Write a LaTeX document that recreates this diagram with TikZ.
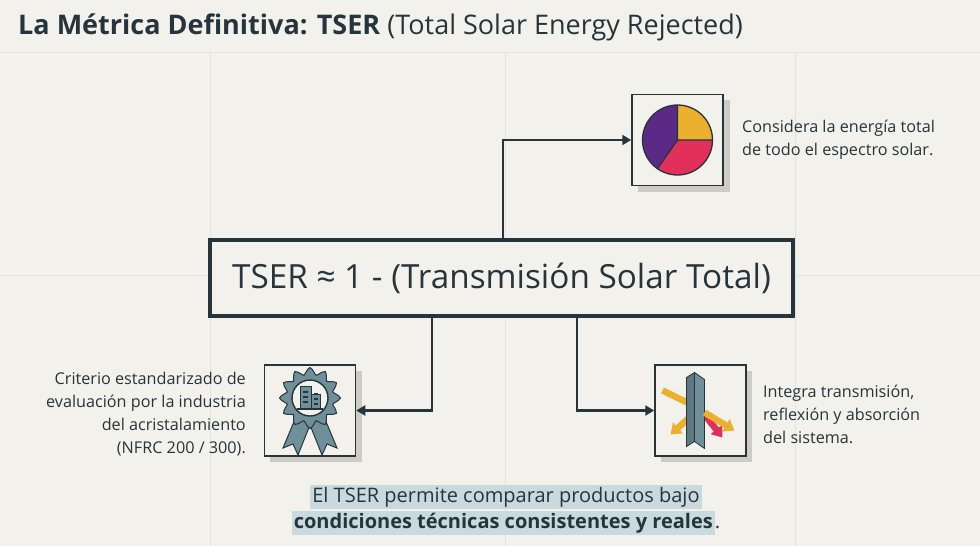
\documentclass[tikz,border=0pt]{standalone}
\usepackage{fontspec}
\setmainfont{Open Sans}
\usetikzlibrary{arrows.meta}
\definecolor{bg}{HTML}{F2F1EC}
\definecolor{ink}{HTML}{26343B}
\definecolor{grid}{HTML}{E4E2DC}
\definecolor{hl}{HTML}{C9D9DE}
\definecolor{shad}{HTML}{CFCBC2}
\definecolor{pie1}{HTML}{5B2A86}
\definecolor{pie2}{HTML}{EAB02E}
\definecolor{pie3}{HTML}{E2305A}
\definecolor{slate}{HTML}{6F8F99}
\tikzset{
 conn/.style={ink,line width=2.2pt,-{Triangle[length=9pt,width=10pt]}},
 iconbox/.style={draw=ink,line width=1.5pt,fill=bg,minimum width=91pt,minimum height=91pt,inner sep=0pt},
 side/.style={font=\fontsize{16.2}{23}\selectfont,text=ink,align=left,anchor=west,inner sep=0pt},
 beam/.style={line width=6.5pt,-{Triangle[length=10pt,width=14pt]}},
}
\begin{document}
\begin{tikzpicture}[x=1pt,y=-1pt]
\fill[bg] (0,0) rectangle (980,546);
\useasboundingbox (0,0) rectangle (980,546);
\foreach \x in {210,505,795} \draw[grid,line width=1pt] (\x,52) -- (\x,546);
\draw[grid,line width=1pt] (0,52) -- (980,52);
\draw[grid,line width=1pt] (0,275) -- (980,275);
\node[anchor=west,text=ink,font=\fontsize{27}{30}\selectfont,inner sep=0pt] (title) at (18,27)
 {\textbf{La Métrica Definitiva: TSER} (Total Solar Energy Rejected)};
% main box
\node[draw=ink,line width=4pt,fill=bg,minimum width=583pt,minimum height=76pt,text=ink,
 font=\fontsize{33.3}{40}\selectfont] (main) at (501.5,278) {TSER ≈ 1 - (Transmisión Solar Total)};
% icon boxes with shadows
\fill[shad] (638,100) rectangle (730,192);
\node[iconbox] (pie) at (677.5,140) {};
\fill[shad] (270,371) rectangle (362,462);
\node[iconbox] (award) at (310,410.5) {};
\fill[shad] (661,371) rectangle (752,462);
\node[iconbox] (glass) at (700.5,410.5) {};
% pie (y flipped: use negative angles)
\begin{scope}[shift={(677.5,140)}]
\fill[pie2] (0,0) -- (0:35) arc[start angle=0,end angle=-90,radius=35] -- cycle;
\fill[pie1] (0,0) -- (-90:35) arc[start angle=-90,end angle=-235,radius=35] -- cycle;
\fill[pie3] (0,0) -- (-235:35) arc[start angle=-235,end angle=-360,radius=35] -- cycle;
\draw[ink,line width=1.3pt] (0,0) circle (35) (0,0)--(-90:35) (0,0)--(0:35) (0,0)--(-235:35);
\end{scope}
% award
\begin{scope}[shift={(310,398)}]
\fill[slate,draw=ink,line width=1pt] (-12,14) -- (-27,50) -- (-17,46) -- (-12,57) -- (2,22) -- cycle;
\fill[slate,draw=ink,line width=1pt] (12,14) -- (27,50) -- (17,46) -- (12,57) -- (-2,22) -- cycle;
\fill[slate,draw=ink,line width=1pt] plot[smooth cycle,samples=48,domain=0:352.5] (\x:{27+3.5*cos(12*\x)});
\fill[bg,draw=ink,line width=1.4pt] (0,0) circle (18);
\fill[slate,draw=ink,line width=0.8pt] (-10,11) rectangle (1,-12);
\fill[slate,draw=ink,line width=0.8pt] (1,11) rectangle (10,-4);
\draw[ink,line width=1.2pt] (-13,11)--(13,11);
\foreach \yy in {-6,-1,4} {\draw[ink,line width=1.3pt] (-7,\yy)--(-2,\yy); \draw[ink,line width=1.3pt] (4,\yy+2)--(8,\yy+2);}
\end{scope}
% glass
\begin{scope}[shift={(700.5,410.5)}]
\draw[pie2,beam] (-38,-20) -- (-1,-2) -- (-30,24);
\draw[pie3,beam] (4,4) -- (22,27);
\fill[slate!75!ink,draw=ink,line width=0.8pt] (-14,-33) -- (-6,-38) -- (-6,31) -- (-14,36) -- cycle;
\fill[slate,draw=ink,line width=0.8pt] (-6,-38) -- (4,-31) -- (4,38) -- (-6,31) -- cycle;
\draw[pie2,beam] (4,2) -- (34,20);
\end{scope}
% connectors
\draw[conn] (main.north -| 503,0) |- (pie.west);
\draw[conn] (main.south -| 432,0) |- (award.east);
\draw[conn] (main.south -| 577,0) |- (glass.west);
% side texts
\node[side] (t1) at (742,140) {Considera la energía total\\de todo el espectro solar.};
\node[side,anchor=east,align=right] (t2) at (246,414) {Criterio estandarizado de\\evaluación por la industria\\del acristalamiento\\(NFRC 200 / 300).};
\node[side] (t3) at (763,414) {Integra transmisión,\\reflexión y absorción\\del sistema.};
% bottom
\node[fill=hl,text=ink,inner sep=2pt,font=\fontsize{20}{24}\selectfont] (b1) at (506,497) {El TSER permite comparar productos bajo};
\node[text=ink,inner sep=0pt,font=\fontsize{20}{24}\selectfont] (b2) at (506,523) {\setlength{\fboxsep}{2pt}\colorbox{hl}{\textbf{condiciones técnicas consistentes y reales}}.};
\end{tikzpicture}
\end{document}
